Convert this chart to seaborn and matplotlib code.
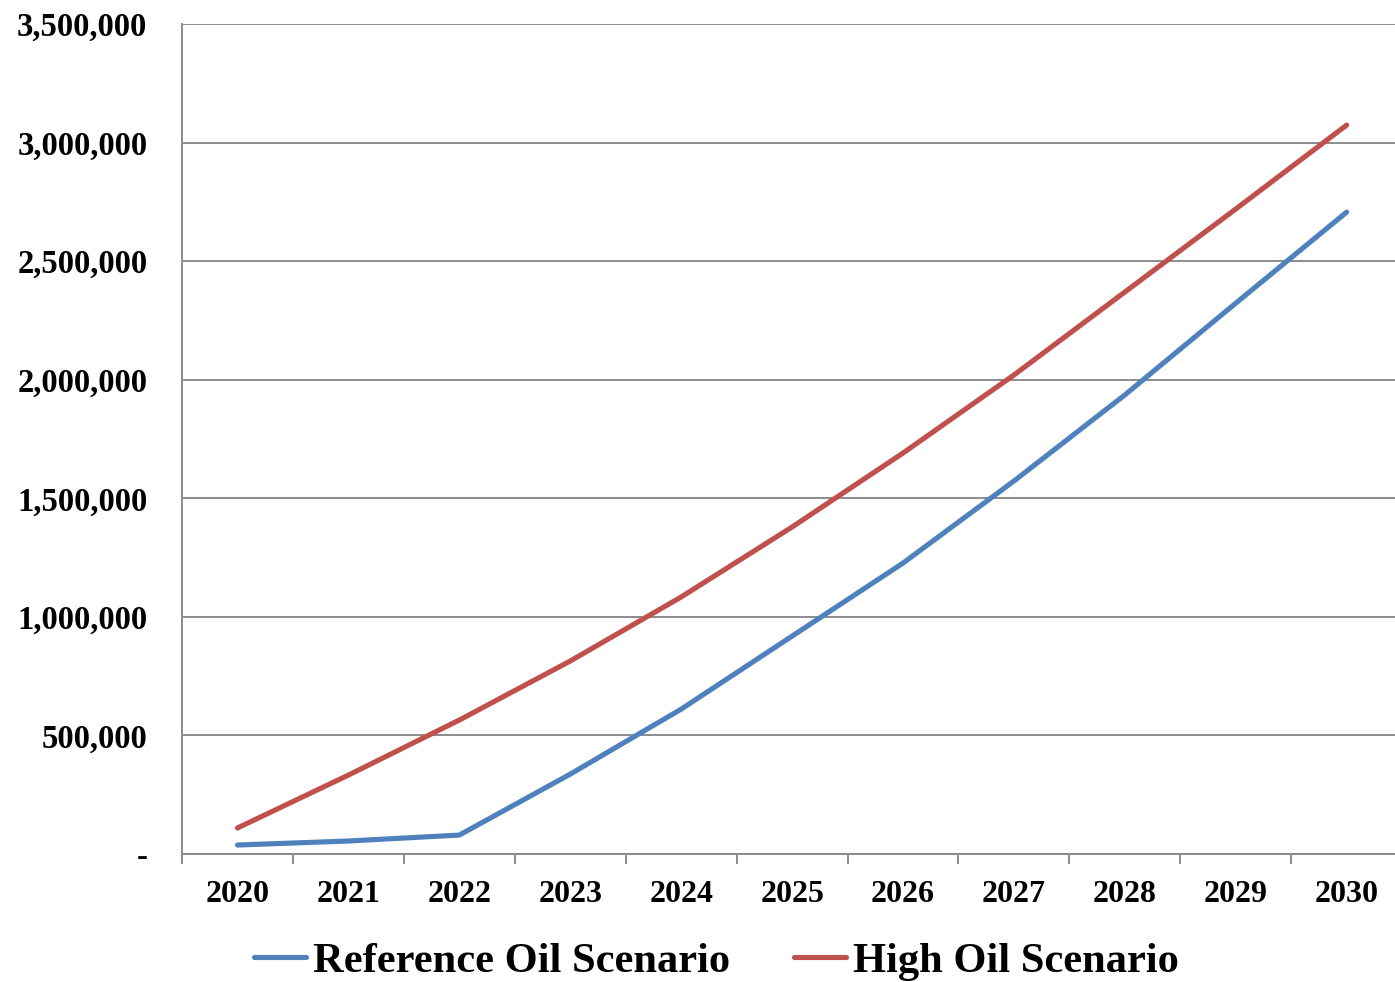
import matplotlib
matplotlib.use("Agg")
import matplotlib.pyplot as plt
import matplotlib.ticker as mticker
import seaborn as sns
import pandas as pd

years = [2020, 2021, 2022, 2023, 2024, 2025, 2026, 2027, 2028, 2029, 2030]
reference_oil = [38000, 55000, 80000, 337000, 611000, 919000, 1227000,
                 1573000, 1936000, 2323000, 2707000]
high_oil = [110000, 333000, 565000, 814000, 1084000, 1379000, 1691000,
            2020000, 2370000, 2720000, 3074000]
series_names = ["Reference Oil Scenario", "High Oil Scenario"]
series_colors = ["#4F81BD", "#C0504D"]
y_ticks = [0, 500000, 1000000, 1500000, 2000000, 2500000, 3000000, 3500000]

df = pd.DataFrame({
    "pos": list(range(len(years))) * 2,
    "value": reference_oil + high_oil,
    "scenario": [series_names[0]] * len(years) + [series_names[1]] * len(years),
})

sns.set_theme(style="white")
plt.rcParams["font.family"] = ["Liberation Serif", "DejaVu Serif"]
plt.rcParams["font.weight"] = "bold"
plt.rcParams["text.color"] = "black"
plt.rcParams["xtick.labelcolor"] = "black"
plt.rcParams["ytick.labelcolor"] = "black"

fig = plt.figure(figsize=(13.95, 9.82), dpi=100)
ax = fig.add_axes([0.1305, 0.1303, 0.8746, 0.8452])

sns.lineplot(data=df, x="pos", y="value", hue="scenario",
             palette=dict(zip(series_names, series_colors)),
             linewidth=3.7, ax=ax, legend=False,
             solid_capstyle="round", solid_joinstyle="round")

ax.set_xlim(-0.5, len(years) - 0.5)
ax.set_ylim(0, 3500000)
ax.set_yticks(y_ticks)
ax.yaxis.set_major_formatter(mticker.FuncFormatter(
    lambda v, p: "-" if v == 0 else f"{int(v):,}"))
ax.set_xticks(range(len(years)))
ax.set_xticklabels([str(y) for y in years])
ax.set_xticks([i - 0.5 for i in range(len(years) + 1)], minor=True)

grid_color = "#8C8C8C"
ax.grid(axis="y", color=grid_color, linewidth=1.4)
ax.grid(axis="x", visible=False)
ax.set_axisbelow(True)
for side in ["top", "right"]:
    ax.spines[side].set_visible(False)
for side in ["left", "bottom"]:
    ax.spines[side].set_color(grid_color)
    ax.spines[side].set_linewidth(1.4)

ax.tick_params(axis="y", which="major", direction="out", length=7,
               width=1.4, color=grid_color, labelsize=23.5, pad=18,
               labelcolor="black")
ax.tick_params(axis="x", which="major", length=0, labelsize=23, pad=19,
               labelcolor="black")
ax.tick_params(axis="x", which="minor", direction="out", length=7,
               width=1.4, color=grid_color, bottom=True)
for lbl in ax.get_xticklabels() + ax.get_yticklabels():
    lbl.set_fontweight("bold")
ax.set_xlabel("")
ax.set_ylabel("")

handles = [plt.Line2D([], [], color=c, linewidth=3.7, solid_capstyle="round")
           for c in series_colors]
fig.legend(handles, series_names, loc="center", bbox_to_anchor=(0.5135, 0.021),
           ncol=2, frameon=False, handlelength=1.22, handletextpad=0.17,
           columnspacing=1.5, prop={"family": "Liberation Serif",
                                    "weight": "bold", "size": 30.6})

fig.savefig("out.png", dpi=100)
